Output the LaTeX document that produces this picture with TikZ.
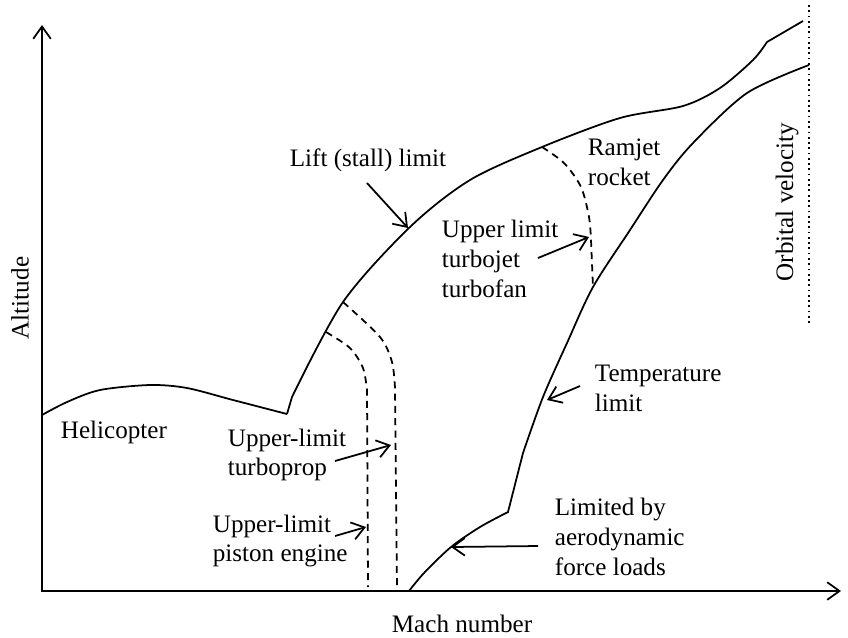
\documentclass[tikz,border=0pt]{standalone}
\usepackage{fontspec}
\setmainfont{Liberation Serif}
\usetikzlibrary{arrows.meta}

\begin{document}
\begin{tikzpicture}[x=0.02cm, y=-0.02cm, line width=1pt, >={Straight Barb[length=7pt,width=10pt]},
  lbl/.style={inner sep=0pt, anchor=west, align=left, font=\fontsize{14.3}{17}\selectfont},
  lim/.style={dash pattern=on 4pt off 3pt}]
\useasboundingbox (0,0) rectangle (848,637);

\coordinate (top) at (42,25);
\coordinate (o) at (42,591);
\coordinate (right) at (841,591);
\draw [<->] (top) -- (o) -- (right);
\node[lbl, anchor=center, rotate=90] (alt) at (20,298) {Altitude};
\node[lbl, anchor=center] (mach) at (462,624) {Mach number};

\coordinate (p1) at (326,332);
\coordinate (p2) at (343,302);
\coordinate (p3) at (542,147);
\coordinate (t1) at (593,287);
\coordinate (orbA) at (809,5);
\coordinate (orbB) at (809,325);

% helicopter and lift limit
\draw plot[smooth] coordinates {(42,415) (67,402) (100,390) (150,385) (187,388) (233,400) (287,414)};
\draw (287,414) -- plot[smooth] coordinates {(292,397) (p2) (410,227)
  (470,180) (p3) (620,118) (683,106) (720,88) (753,60) (767,42)} -- (803,21);

% temperature limit
\draw plot[smooth] coordinates {(409,591) (424,573) (451,547) (480,527) (508,512)}
  -- plot[smooth] coordinates {(523,453) (543,397) (567,343) (t1) (630,230) (663,180) (693,143) (747,93) (809,65)};

% engine limits
\draw[lim] plot[smooth] coordinates {(p1) (350,348) (363,368) (367,390)} -- (368,587);
\draw[lim] plot[smooth] coordinates {(p2) (380,337) (392,362) (395,388)} -- (397,587);
\draw[lim] plot[smooth] coordinates {(p3) (564,163) (581,187) (589,217) (591,240)} -- (t1);
\draw[dotted] (orbA) -- (orbB);

\node[lbl] (heli) at (60,432) {Helicopter};
\node[lbl, anchor=center] (lift) at (368,160) {Lift (stall) limit};
\node[lbl] (ram) at (587,162) {Ramjet\\rocket};
\node[lbl] (jet) at (441,259) {Upper limit\\turbojet\\turbofan};
\node[lbl] (prop) at (227,455) {Upper-limit\\turboprop};
\node[lbl] (pist) at (212,541) {Upper-limit\\piston engine};
\node[lbl] (temp) at (594,388) {Temperature\\limit};
\node[lbl] (aero) at (554,537) {Limited by\\aerodynamic\\force loads};
\node[lbl, anchor=center, rotate=90] (orb) at (787,202) {Orbital velocity};

\coordinate (a1) at (367,183);  \coordinate (b1) at (408,228);
\coordinate (a2) at (538,258);  \coordinate (b2) at (589,237);
\coordinate (a3) at (335,461);  \coordinate (b3) at (391,445);
\coordinate (a4) at (335,536);  \coordinate (b4) at (366,527);
\coordinate (a5) at (580,386);  \coordinate (b5) at (547,400);
\coordinate (a6) at (538,546);  \coordinate (b6) at (451,547);
\draw [->] (a1) -- (b1);
\draw [->] (a2) -- (b2);
\draw [->] (a3) -- (b3);
\draw [->] (a4) -- (b4);
\draw [->] (a5) -- (b5);
\draw [->] (a6) -- (b6);
%
\end{tikzpicture}
\end{document}
